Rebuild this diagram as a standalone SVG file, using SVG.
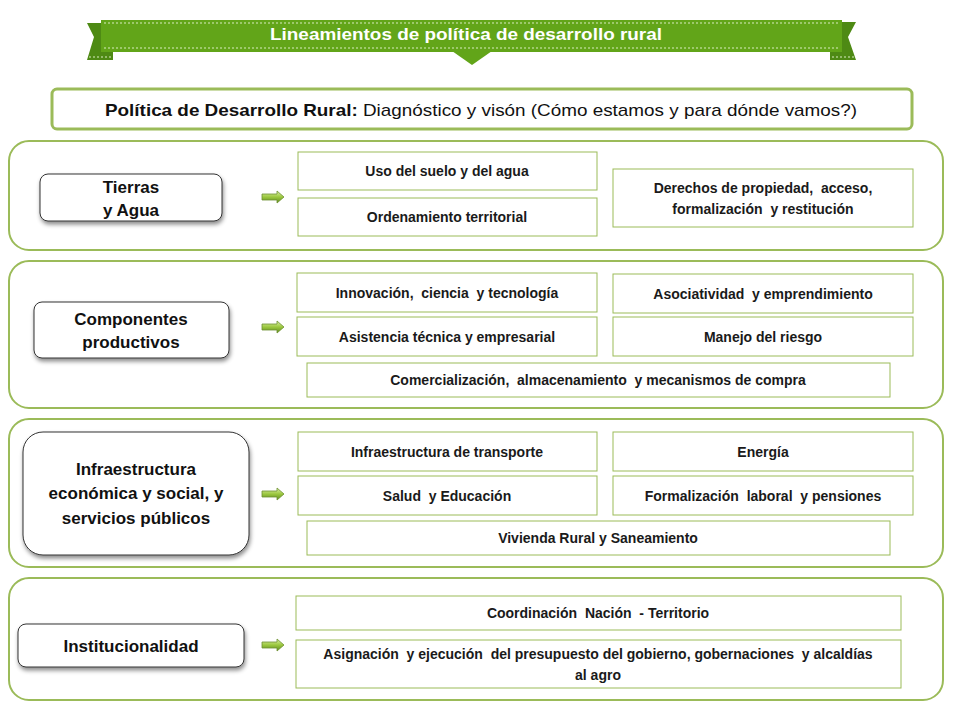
<svg xmlns="http://www.w3.org/2000/svg" width="960" height="720" viewBox="0 0 960 720">
<style>
.sec{fill:#fff;stroke:#9bbb59;stroke-width:2}
.box{fill:#fff;stroke:#9bbb59;stroke-width:1}
.bt{font-family:"Liberation Sans",Arial,sans-serif;font-weight:bold;font-size:14px;fill:#1a1a1a;text-anchor:middle;white-space:pre}
.lt{font-family:"Liberation Sans",Arial,sans-serif;font-weight:bold;font-size:17px;fill:#111;text-anchor:middle}
.ln{fill:#fff;stroke:#333;stroke-width:1}
.arr{fill:url(#ag);stroke:#6d9030;stroke-width:0.8}
</style>
<defs>
<linearGradient id="ag" x1="0" y1="0" x2="0" y2="1">
<stop offset="0" stop-color="#dcefa8"/><stop offset="0.5" stop-color="#9cc83f"/><stop offset="1" stop-color="#5f8a22"/>
</linearGradient>
<filter id="sh" x="-10%" y="-10%" width="130%" height="140%">
<feDropShadow dx="1" dy="3" stdDeviation="2" flood-color="#000" flood-opacity="0.45"/>
</filter>
<path id="arrow" d="M0,-3 H15 V-6 L22,0 L15,6 V3 H0 Z"/>
</defs>

<g id="banner">
<path d="M87,23 H113 V60 H87 L94,37 Z" fill="#4e8a14"/>
<path d="M830,22 H856 L848,37 L856,60 H830 Z" fill="#4e8a14"/>
<rect x="101" y="20" width="741" height="32" fill="#62a519"/>
<path d="M452,51 H492 L472,65 Z" fill="#62a519"/>
<line x1="104" y1="23" x2="840" y2="23" stroke="#d8ecc0" stroke-width="1" stroke-dasharray="2,2"/>
<line x1="104" y1="48" x2="840" y2="48" stroke="#d8ecc0" stroke-width="1" stroke-dasharray="2,2"/>
<line x1="89" y1="57" x2="112" y2="57" stroke="#d8ecc0" stroke-width="1" stroke-dasharray="2,2"/>
<line x1="832" y1="57" x2="854" y2="57" stroke="#d8ecc0" stroke-width="1" stroke-dasharray="2,2"/>
<text x="466" y="40" font-family="'Liberation Sans',Arial,sans-serif" font-weight="bold" font-size="17" fill="#fff" text-anchor="middle" textLength="392" lengthAdjust="spacingAndGlyphs">Lineamientos de política de desarrollo rural</text>
</g>

<g id="header">
<rect x="52" y="89" width="860" height="40" rx="5" fill="#fff" stroke="#9bbb59" stroke-width="3"/>
<text x="481" y="116" font-family="'Liberation Sans',Arial,sans-serif" font-size="17" fill="#111" text-anchor="middle" textLength="752" lengthAdjust="spacingAndGlyphs"><tspan font-weight="bold">Política de Desarrollo Rural:</tspan> Diagnóstico y visón (Cómo estamos y para dónde vamos?)</text>
</g>

<g id="sec1">
<rect class="sec" x="9" y="141" width="934" height="109" rx="20"/>
<g id="n-tierras"><rect class="ln" x="40" y="174" width="182" height="47" rx="8" filter="url(#sh)"/>
<text class="lt" x="131" y="193">Tierras</text><text class="lt" x="131" y="216">y Agua</text></g>
<g id="b-uso"><rect class="box" x="298" y="152" width="299" height="38"/><text class="bt" x="447" y="176">Uso del suelo y del agua</text></g>
<g id="b-orden"><rect class="box" x="298" y="198" width="299" height="38"/><text class="bt" x="447" y="222">Ordenamiento territorial</text></g>
<g id="b-derechos"><rect class="box" x="613" y="169" width="300" height="58"/><text class="bt" x="763" y="193">Derechos de propiedad,  acceso,</text><text class="bt" x="763" y="214">formalización  y restitución</text></g>
</g>

<g id="sec2">
<rect class="sec" x="9" y="261" width="934" height="147" rx="20"/>
<g id="n-comp"><rect class="ln" x="34" y="302" width="195" height="56" rx="8" filter="url(#sh)"/>
<text class="lt" x="131" y="325">Componentes</text><text class="lt" x="131" y="348">productivos</text></g>
<g id="b-innov"><rect class="box" x="297" y="273" width="300" height="39"/><text class="bt" x="447" y="298">Innovación,  ciencia  y tecnología</text></g>
<g id="b-asoc"><rect class="box" x="613" y="274" width="300" height="39"/><text class="bt" x="763" y="299">Asociatividad  y emprendimiento</text></g>
<g id="b-asist"><rect class="box" x="297" y="317" width="300" height="39"/><text class="bt" x="447" y="342">Asistencia técnica y empresarial</text></g>
<g id="b-riesgo"><rect class="box" x="613" y="317" width="300" height="39"/><text class="bt" x="763" y="342">Manejo del riesgo</text></g>
<g id="b-comer"><rect class="box" x="307" y="363" width="583" height="34"/><text class="bt" x="598" y="385">Comercialización,  almacenamiento  y mecanismos de compra</text></g>
</g>

<g id="sec3">
<rect class="sec" x="9" y="419" width="934" height="148" rx="20"/>
<g id="n-infra"><rect class="ln" x="23" y="432" width="226" height="123" rx="20" filter="url(#sh)"/>
<text class="lt" x="136" y="475">Infraestructura</text><text class="lt" x="136" y="499">económica y social, y</text><text class="lt" x="136" y="524">servicios públicos</text></g>
<g id="b-transp"><rect class="box" x="298" y="432" width="299" height="39"/><text class="bt" x="447" y="457">Infraestructura de transporte</text></g>
<g id="b-energia"><rect class="box" x="613" y="432" width="300" height="39"/><text class="bt" x="763" y="457">Energía</text></g>
<g id="b-salud"><rect class="box" x="298" y="476" width="299" height="39"/><text class="bt" x="447" y="501">Salud  y Educación</text></g>
<g id="b-formal"><rect class="box" x="613" y="476" width="300" height="39"/><text class="bt" x="763" y="501">Formalización  laboral  y pensiones</text></g>
<g id="b-vivienda"><rect class="box" x="307" y="521" width="583" height="34"/><text class="bt" x="598" y="543">Vivienda Rural y Saneamiento</text></g>
</g>

<g id="sec4">
<rect class="sec" x="9" y="578" width="934" height="122" rx="20"/>
<g id="n-inst"><rect class="ln" x="18" y="624" width="226" height="43" rx="8" filter="url(#sh)"/>
<text class="lt" x="131" y="652">Institucionalidad</text></g>
<g id="b-coord"><rect class="box" x="296" y="596" width="605" height="34"/><text class="bt" x="598" y="618">Coordinación  Nación  - Territorio</text></g>
<g id="b-asign"><rect class="box" x="296" y="640" width="605" height="48"/><text class="bt" x="598" y="659">Asignación  y ejecución  del presupuesto del gobierno, gobernaciones  y alcaldías</text><text class="bt" x="598" y="680">al agro</text></g>
</g>

<g id="connectors">
<use href="#arrow" class="arr" x="262" y="197"/>
<use href="#arrow" class="arr" x="262" y="327"/>
<use href="#arrow" class="arr" x="262" y="494"/>
<use href="#arrow" class="arr" x="262" y="645"/>
</g>
</svg>
